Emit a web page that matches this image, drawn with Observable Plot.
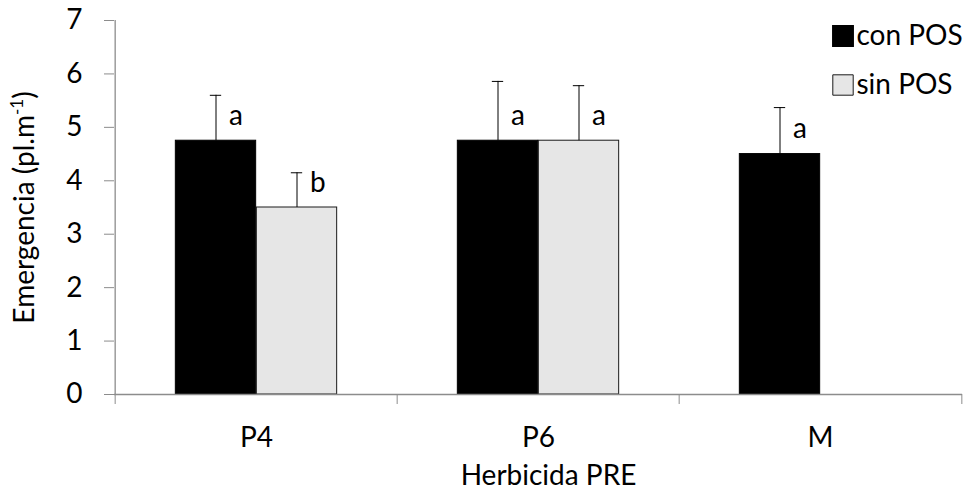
<!DOCTYPE html>
<html><head><meta charset="utf-8">
<script src="https://cdn.jsdelivr.net/npm/d3@7"></script>
<script src="https://cdn.jsdelivr.net/npm/@observablehq/plot@0.6"></script>
<style>body{margin:0;background:#fff}</style>
</head><body><div id="chart"></div>
<script>
const categories = ["P4", "P6", "M"];
const series = ["con POS", "sin POS"];
const conValues = [4.75, 4.75, 4.5];
const conErrors = [0.85, 1.11, 0.87];
const conLetters = ["a", "a", "a"];
const sinValues = [3.5, 4.75, null];
const sinErrors = [0.65, 1.03, null];
const sinLetters = ["b", "a", null];
const yTicks = [0, 1, 2, 3, 4, 5, 6, 7];
const xLabel = "Herbicida PRE";
const yLabelMain = "Emergencia (pl.m";
const yLabelSup = "-1";
const yLabelEnd = ")";

const W = 972, H = 490, mL = 114, mR = 10, mT = 20, mB = 96;
const bw = (W - mL - mR) / categories.length;
const barW = 81;
const off = barW / 2;
const cap = 12;
const gray = "#8c8c8c";
const FONT = "Lato";
const FS = 28;

const rows = (vals, errs, lets, s) => categories.map((c, i) => ({cat: c, series: s, value: vals[i], err: errs[i], letter: lets[i]})).filter(d => d.value != null);
const con = rows(conValues, conErrors, conLetters, series[0]);
const sin = rows(sinValues, sinErrors, sinLetters, series[1]);

const errMarks = (data, dx) => [
  Plot.ruleX(data, {x: "cat", y1: "value", y2: d => d.value + d.err, dx, stroke: "black", strokeWidth: 1}),
  Plot.tickY(data, {x: "cat", y: d => d.value + d.err, dx, insetLeft: (bw - cap) / 2, insetRight: (bw - cap) / 2, stroke: "black", strokeWidth: 1}),
  Plot.text(data, {x: "cat", y: "value", text: "letter", dx: dx + 13, dy: -16, textAnchor: "start", lineAnchor: "bottom", fontSize: FS, fill: "black"})
];

const chart = Plot.plot({
  width: W, height: H,
  marginLeft: mL, marginRight: mR, marginTop: mT, marginBottom: mB,
  style: {fontFamily: FONT, fontSize: FS + "px", color: "black", background: "white"},
  x: {domain: categories, padding: 0},
  y: {domain: [0, 7]},
  marks: [
    Plot.barY(con, {x: "cat", y: "value", fill: "black", stroke: "black", strokeWidth: 1, insetLeft: bw / 2 - barW, insetRight: bw / 2}),
    Plot.barY(sin, {x: "cat", y: "value", fill: "#e6e6e6", stroke: "#1a1a1a", strokeWidth: 1, insetLeft: bw / 2, insetRight: bw / 2 - barW}),
    ...errMarks(con, -off),
    ...errMarks(sin, off),
    Plot.ruleY([0], {stroke: gray, strokeWidth: 1.3}),
    Plot.ruleX([categories[0]], {x: d => d, y1: 0, y2: 7, dx: -bw / 2, stroke: gray, strokeWidth: 1.3}),
    Plot.axisY({ticks: yTicks, tickSize: 10, tickPadding: 22, tickFormat: d => String(d), stroke: gray, color: "black", fontSize: FS, label: null}),
    Plot.axisX({ticks: categories, tickSize: 10, dx: -bw / 2, tickFormat: () => "", stroke: gray, label: null}),
    Plot.axisX({ticks: [categories[categories.length - 1]], tickSize: 10, dx: bw / 2, tickFormat: () => "", stroke: gray, label: null}),
    Plot.axisX({ticks: categories, tickSize: 0, tickPadding: 33, color: "black", fontSize: FS, label: null}),
    Plot.text([xLabel], {text: d => d, frameAnchor: "bottom", dx: 10, dy: 90, lineAnchor: "bottom", fontSize: FS, fill: "black"}),
    Plot.text([yLabelMain], {text: d => d, frameAnchor: "left", dx: -81, rotate: -90, textAnchor: "middle", lineAnchor: "bottom", fontSize: FS, fill: "black"}),
    Plot.dot([series[0]], {frameAnchor: "top-right", dx: -119.5, dy: 15.5, symbol: "square", r: 11.5, fill: "black", stroke: "black"}),
    Plot.dot([series[1]], {frameAnchor: "top-right", dx: -119.5, dy: 64.5, symbol: "square", r: 11.5, fill: "#e6e6e6", stroke: "#1a1a1a", strokeWidth: 1}),
    Plot.text([series[0]], {text: d => d, frameAnchor: "top-right", dx: -106, dy: 15.5, textAnchor: "start", lineAnchor: "middle", fontSize: FS, fill: "black"}),
    Plot.text([series[1]], {text: d => d, frameAnchor: "top-right", dx: -106, dy: 64.5, textAnchor: "start", lineAnchor: "middle", fontSize: FS, fill: "black"})
  ]
});

// add superscript to the y label
d3.select(chart).selectAll("text").each(function() {
  if (this.textContent === yLabelMain) {
    const t = d3.select(this);
    t.attr("text-anchor", "middle");
    t.text(yLabelMain);
    t.append("tspan").attr("dy", -11).attr("font-size", 17).text(yLabelSup);
    t.append("tspan").attr("dy", 11).text(yLabelEnd);
  }
});

document.getElementById("chart").appendChild(chart);
</script>
</body></html>
